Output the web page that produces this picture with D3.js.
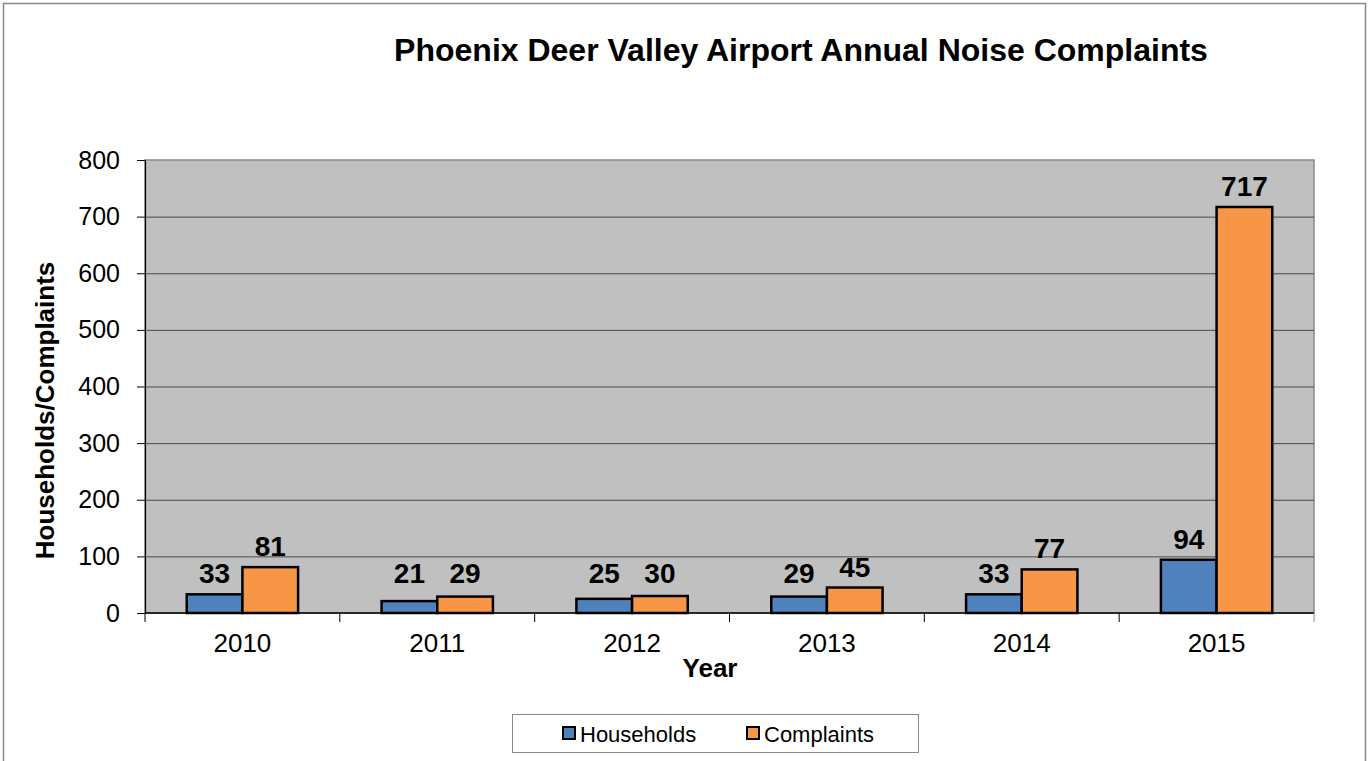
<!DOCTYPE html>
<html>
<head>
<meta charset="utf-8">
<script src="https://cdn.jsdelivr.net/npm/d3@7"></script>
<style>
  body { margin: 0; background: #fff; }
  svg { display: block; font-family: Arial, 'Liberation Sans', sans-serif; }
</style>
</head>
<body>
<svg id="chart"></svg>
<script>
// chart data
const years = ['2010', '2011', '2012', '2013', '2014', '2015'];
const households = [33, 21, 25, 29, 33, 94];
const complaints = [81, 29, 30, 45, 77, 717];
const seriesNames = ['Households', 'Complaints'];
const yTicks = [0, 100, 200, 300, 400, 500, 600, 700, 800];

const width = 1369;
const height = 761;
const margin = { top: 160, right: 55, bottom: 148, left: 145 };
const colors = { Households: '#4f81bd', Complaints: '#f79646' };

const svg = d3.select('#chart')
    .attr('width', width)
    .attr('height', height);

// outer frame
svg.append('rect')
    .attr('x', 3.5).attr('y', 3.5)
    .attr('width', width - 7).attr('height', height)
    .attr('fill', 'white')
    .attr('stroke', '#888')
    .attr('stroke-width', 1.5);

const x0 = d3.scaleBand()
    .domain(years)
    .range([margin.left, width - margin.right]);

const x1 = d3.scaleBand()
    .domain(seriesNames)
    .range([0, x0.bandwidth()])
    .paddingOuter(0.75)
    .paddingInner(0);

const y = d3.scaleLinear()
    .domain([0, 800])
    .range([height - margin.bottom, margin.top]);

// plot area
svg.append('rect')
    .attr('x', margin.left).attr('y', margin.top)
    .attr('width', width - margin.left - margin.right)
    .attr('height', y(0) - margin.top)
    .attr('fill', '#c0c0c0')
    .attr('stroke', '#8a8a8a')
    .attr('stroke-width', 1.5);

// gridlines
svg.append('g')
    .selectAll('line')
    .data(yTicks.filter(d => d > 0 && d < 800))
    .enter()
    .append('line')
        .attr('x1', margin.left)
        .attr('x2', width - margin.right)
        .attr('y1', d => y(d) + 0.5)
        .attr('y2', d => y(d) + 0.5)
        .attr('stroke', '#4a4a4a')
        .attr('stroke-width', 1);

// y axis
const yAxis = svg.append('g')
    .attr('transform', `translate(${margin.left},0)`)
    .call(d3.axisLeft(y).tickValues(yTicks).tickSize(8).tickPadding(17));
yAxis.select('.domain').attr('stroke', '#000').attr('stroke-width', 1.2);
yAxis.selectAll('.tick line').attr('stroke', '#000');
yAxis.selectAll('text')
    .attr('font-size', 25)
    .attr('fill', '#000')
    .style('font-family', 'Arial, "Liberation Sans", sans-serif');

// x axis with ticks at category boundaries
const xAxisG = svg.append('g')
    .attr('transform', `translate(0,${y(0)})`);
xAxisG.append('line')
    .attr('x1', margin.left).attr('x2', width - margin.right)
    .attr('stroke', '#000').attr('stroke-width', 1.5);
xAxisG.selectAll('line.tick')
    .data(years.concat(['end']))
    .enter()
    .append('line')
        .attr('class', 'tick')
        .attr('x1', (d, i) => margin.left + i * x0.step())
        .attr('x2', (d, i) => margin.left + i * x0.step())
        .attr('y1', 0).attr('y2', 9)
        .attr('stroke', (d, i) => i === years.length ? '#8a8a8a' : '#000');
xAxisG.selectAll('text')
    .data(years)
    .enter()
    .append('text')
        .attr('x', d => x0(d) + x0.bandwidth() / 2)
        .attr('y', 39)
        .attr('text-anchor', 'middle')
        .attr('font-size', 26)
        .text(d => d);

// bars
const rows = years.map((yr, i) => ({
    year: yr,
    values: [
        { key: 'Households', value: households[i] },
        { key: 'Complaints', value: complaints[i] }
    ]
}));

const groups = svg.append('g')
    .selectAll('g')
    .data(rows)
    .enter()
    .append('g')
        .attr('transform', d => `translate(${x0(d.year)},0)`);

groups.selectAll('rect')
    .data(d => d.values)
    .enter()
    .append('rect')
        .attr('x', d => x1(d.key))
        .attr('y', d => y(d.value))
        .attr('width', x1.bandwidth())
        .attr('height', d => y(0) - y(d.value))
        .attr('fill', d => colors[d.key])
        .attr('stroke', '#000')
        .attr('stroke-width', 2.5);

groups.selectAll('text')
    .data(d => d.values)
    .enter()
    .append('text')
        .attr('x', d => x1(d.key) + x1.bandwidth() / 2)
        .attr('y', d => Math.min(y(d.value) - 11, y(0) - 30))
        .attr('text-anchor', 'middle')
        .attr('font-size', 28)
        .attr('font-weight', 'bold')
        .text(d => d.value);

// title
svg.append('text')
    .attr('x', 801)
    .attr('y', 61)
    .attr('text-anchor', 'middle')
    .attr('font-size', 32)
    .attr('font-weight', 'bold')
    .text('Phoenix Deer Valley Airport Annual Noise Complaints');

// axis titles
svg.append('text')
    .attr('x', 710)
    .attr('y', 677)
    .attr('text-anchor', 'middle')
    .attr('font-size', 26)
    .attr('font-weight', 'bold')
    .text('Year');

svg.append('text')
    .attr('transform', `translate(54,${(margin.top + y(0)) / 2 + 24}) rotate(-90)`)
    .attr('text-anchor', 'middle')
    .attr('font-size', 26)
    .attr('font-weight', 'bold')
    .text('Households/Complaints');

// legend
const legend = svg.append('g');
legend.append('rect')
    .attr('x', 512.5).attr('y', 714.5)
    .attr('width', 406).attr('height', 38)
    .attr('fill', 'white')
    .attr('stroke', '#888');

const legendX = [563, 747];
const items = legend.selectAll('g')
    .data(seriesNames)
    .enter()
    .append('g')
        .attr('transform', (d, i) => `translate(${legendX[i]},733)`);
items.append('rect')
    .attr('x', 0).attr('y', -6)
    .attr('width', 12).attr('height', 12)
    .attr('fill', d => colors[d])
    .attr('stroke', '#000')
    .attr('stroke-width', 2);
items.append('text')
    .attr('x', 17)
    .attr('y', 8.5)
    .attr('font-size', 22)
    .text(d => d);
</script>
</body>
</html>
